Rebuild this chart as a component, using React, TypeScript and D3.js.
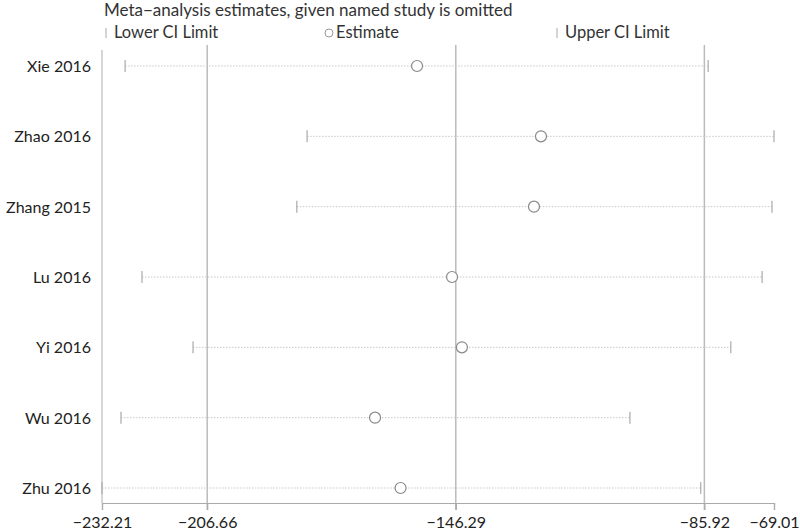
import React, { useEffect, useRef } from 'react';
import * as d3 from 'd3';

const studies = ['Xie 2016', 'Zhao 2016', 'Zhang 2015', 'Lu 2016', 'Yi 2016', 'Wu 2016', 'Zhu 2016'];
const lowerCI = [-226.6, -182.4, -184.9, -222.5, -210.1, -227.6, -232.21];
const estimates = [-155.7, -125.6, -127.3, -147.2, -144.8, -165.9, -159.7];
const upperCI = [-85.0, -69.01, -69.5, -71.9, -79.5, -104.0, -86.8];
const tickValues = [-232.21, -206.66, -146.29, -85.92, -69.01];
const refLines = [-206.66, -146.29, -85.92];

const FONT = 'Lato, "Open Sans", sans-serif';

const App: React.FC = () => {
  const svgRef = useRef<SVGSVGElement | null>(null);

  useEffect(() => {
    document.body.style.margin = '0';
    if (!svgRef.current) return;
    const svg = d3.select(svgRef.current);
    svg.selectAll('*').remove();

    const width = 800;
    const height = 532;
    const left = 102;
    const right = 774;
    const axisY = 503;

    const x = d3.scaleLinear().domain([-232.21, -69.01]).range([left, right]);
    const y = d3.scalePoint<string>().domain(studies).range([66, 488]);

    const g = svg.append('g').style('font-family', FONT);

    // title + legend
    g.append('text')
      .attr('x', 104)
      .attr('y', 16)
      .attr('fill', '#333')
      .style('font-size', '17px')
      .text('Meta\u2212analysis estimates, given named study is omitted');

    const legY = 33;
    const legend = g.append('g').style('font-size', '16.5px').attr('fill', '#333');
    legend.append('line').attr('x1', 106).attr('x2', 106).attr('y1', legY - 5).attr('y2', legY + 5).attr('stroke', '#aaa');
    legend.append('text').attr('x', 114).attr('y', legY + 5).text('Lower CI Limit');
    legend.append('circle').attr('cx', 329).attr('cy', legY).attr('r', 4).attr('fill', 'none').attr('stroke', '#999');
    legend.append('text').attr('x', 336).attr('y', legY + 5).text('Estimate');
    legend.append('line').attr('x1', 557).attr('x2', 557).attr('y1', legY - 5).attr('y2', legY + 5).attr('stroke', '#aaa');
    legend.append('text').attr('x', 565).attr('y', legY + 5).text('Upper CI Limit');

    // left frame line
    g.append('line')
      .attr('x1', left).attr('x2', left)
      .attr('y1', 50).attr('y2', axisY)
      .attr('stroke', '#bbb').attr('stroke-width', 1.2);

    // reference lines
    g.selectAll('line.ref')
      .data(refLines)
      .enter()
      .append('line')
      .attr('class', 'ref')
      .attr('x1', (d) => x(d)).attr('x2', (d) => x(d))
      .attr('y1', 45).attr('y2', axisY + 7)
      .attr('stroke', '#bbb').attr('stroke-width', 1.5);

    // axis
    const axis = d3.axisBottom(x)
      .tickValues(tickValues)
      .tickSize(7)
      .tickFormat((d) => d3.format('.2f')(d as number).replace('-', '\u2212'));
    const ax = g.append('g').attr('transform', `translate(0,${axisY})`).call(axis);
    ax.select('.domain').attr('stroke', '#aaa').attr('stroke-width', 1.2);
    ax.selectAll('.tick line').attr('stroke', '#aaa').attr('stroke-width', 1.2);
    ax.selectAll('.tick text')
      .attr('fill', '#222')
      .attr('y', 25)
      .attr('dy', null)
      .style('font-family', FONT)
      .style('font-size', '16px');

    // rows
    const idx = studies.map((_, i) => i);

    g.selectAll('line.ci')
      .data(idx)
      .enter()
      .append('line')
      .attr('class', 'ci')
      .attr('x1', (i) => x(lowerCI[i])).attr('x2', (i) => x(upperCI[i]))
      .attr('y1', (i) => y(studies[i])!).attr('y2', (i) => y(studies[i])!)
      .attr('stroke', '#c8c8c8').attr('stroke-width', 1)
      .attr('stroke-dasharray', '1.5,1.5');

    g.selectAll('line.lo')
      .data(idx)
      .enter()
      .append('line')
      .attr('class', 'lo')
      .attr('x1', (i) => x(lowerCI[i])).attr('x2', (i) => x(lowerCI[i]))
      .attr('y1', (i) => y(studies[i])! - 6).attr('y2', (i) => y(studies[i])! + 6)
      .attr('stroke', '#aaa').attr('stroke-width', 1.2);

    g.selectAll('line.hi')
      .data(idx)
      .enter()
      .append('line')
      .attr('class', 'hi')
      .attr('x1', (i) => x(upperCI[i])).attr('x2', (i) => x(upperCI[i]))
      .attr('y1', (i) => y(studies[i])! - 6).attr('y2', (i) => y(studies[i])! + 6)
      .attr('stroke', '#aaa').attr('stroke-width', 1.2);

    g.selectAll('circle.est')
      .data(idx)
      .enter()
      .append('circle')
      .attr('class', 'est')
      .attr('cx', (i) => x(estimates[i]))
      .attr('cy', (i) => y(studies[i])!)
      .attr('r', 5.5)
      .attr('fill', '#fff')
      .attr('stroke', '#888')
      .attr('stroke-width', 1.2);

    g.selectAll('text.study')
      .data(studies)
      .enter()
      .append('text')
      .attr('class', 'study')
      .attr('x', 91)
      .attr('y', (d) => y(d)! + 6)
      .attr('text-anchor', 'end')
      .attr('fill', '#222')
      .style('font-size', '16px')
      .text((d) => d);

    svg.attr('width', width).attr('height', height);
  }, []);

  return <svg ref={svgRef} width={800} height={532} style={{ display: 'block', background: '#fff' }} />;
};

export default App;
